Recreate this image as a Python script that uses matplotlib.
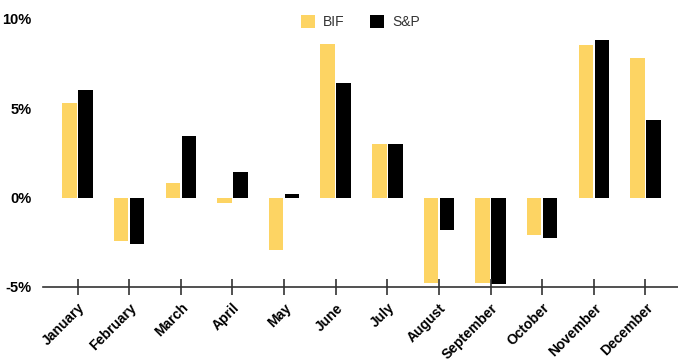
import numpy as np
import matplotlib.pyplot as plt
from matplotlib.ticker import FuncFormatter

plt.rcParams['font.family'] = ['Liberation Sans', 'DejaVu Sans']

# monthly returns, percent
months = ['January', 'February', 'March', 'April', 'May', 'June', 'July',
          'August', 'September', 'October', 'November', 'December']
bif = [5.3, -2.45, 0.8, -0.3, -2.95, 8.6, 3.0, -4.8, -4.8, -2.1, 8.55, 7.8]
snp = [6.0, -2.6, 3.45, 1.4, 0.2, 6.4, 3.0, -1.8, -4.85, -2.25, 8.8, 4.35]

yellow = '#fdd463'

fig = plt.figure(figsize=(6.78, 3.62), dpi=100)
ax = fig.add_axes([0.0634, 0.2072, 0.9366, 0.766])

x = np.arange(len(months))
w = 0.28
ax.bar(x - 0.155, bif, w, color=yellow, label='BIF')
ax.bar(x + 0.155, snp, w, color='black', label='S&P')

ax.set_xlim(-0.67, 11.63)
ax.set_ylim(-5, 10.5)
ax.set_yticks([-5, 0, 5, 10])
ax.yaxis.set_major_formatter(FuncFormatter(lambda v, p: '%d%%' % v))
ax.tick_params(axis='y', length=0, pad=8, labelsize=10.5)
for t in ax.get_yticklabels():
    t.set_fontweight('bold')

ax.set_xticks(x)
ax.set_xticklabels(months, rotation=45, ha='right', rotation_mode='anchor',
                   fontsize=10, fontweight='bold')
ax.tick_params(axis='x', direction='inout', length=12, width=1.2,
               color='#333333', pad=4)

for s in ['top', 'right', 'left']:
    ax.spines[s].set_visible(False)
ax.spines['bottom'].set_color('#333333')
ax.spines['bottom'].set_linewidth(1.2)

ax.legend(loc='upper center', bbox_to_anchor=(0.5, 1.025), ncol=2,
          frameon=False, fontsize=10, handlelength=1.0, handleheight=1.0,
          columnspacing=1.8, handletextpad=0.6, labelcolor='#333333')

fig.savefig('out.png', dpi=100)
